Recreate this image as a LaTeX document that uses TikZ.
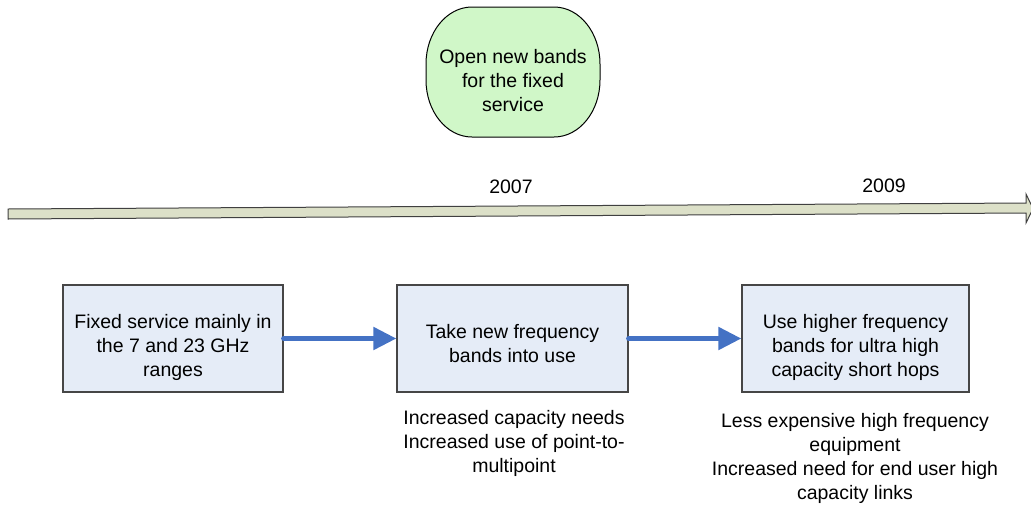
\documentclass[tikz,border=0pt]{standalone}
\usepackage{fontspec}
\setmainfont{Liberation Sans}
\usetikzlibrary{arrows.meta}
\definecolor{boxfill}{RGB}{229,236,247}
\definecolor{boxline}{RGB}{70,70,70}
\definecolor{blobfill}{RGB}{208,247,200}
\definecolor{barfill}{RGB}{220,224,200}
\definecolor{flowblue}{RGB}{68,114,196}
\tikzset{
  txt/.style={align=center, inner sep=0pt, font=\fontsize{19.5}{24}\selectfont},
  stepbox/.style={draw=boxline, line width=1.2pt, fill=boxfill, minimum height=107pt, inner sep=0pt},
  note/.style={txt},
  flow/.style={draw=flowblue, line width=5pt, line cap=round, -{Triangle[length=23pt,width=22pt]}},
}
\begin{document}
\begin{tikzpicture}[x=1pt,y=-1pt]
\useasboundingbox (0,0) rectangle (1031,504);
% timeline bar
\draw[fill=barfill, draw=black!75, line width=1pt]
  (8,209) -- (1026,203) -- (1026,194) -- (1033,208.5) -- (1026,223) -- (1026,213) -- (8,219) -- cycle;
\node[txt] (y2007) at (511,187) {2007};
\node[txt] (y2009) at (884,186) {2009};
% green blob
\draw[fill=blobfill, draw=black, line width=1pt]
  (472,7) -- (554,7) arc[start angle=90, end angle=0, x radius=46pt, y radius=57pt]
  -- (600,80) arc[start angle=0, end angle=-90, x radius=46pt, y radius=57pt]
  -- (472,137) arc[start angle=270, end angle=180, x radius=46pt, y radius=57pt]
  -- (426,64) arc[start angle=180, end angle=90, x radius=46pt, y radius=57pt] -- cycle;
\node[txt] (open) at (513,81) {Open new bands\\for the fixed\\service};
% boxes
\node[stepbox, minimum width=220pt] (b1) at (173,338.5) {};
\node[stepbox, minimum width=231pt] (b2) at (512.5,338.5) {};
\node[stepbox, minimum width=227pt] (b3) at (855.5,338.5) {};
\node[txt] (t1) at ([yshift=-8.5pt]b1.center) {Fixed service mainly in\\the 7 and 23 GHz\\ranges};
\node[txt] (t2) at ([yshift=-5.5pt]b2.center) {Take new frequency\\bands into use};
\node[txt] (t3) at ([yshift=-8.5pt]b3.center) {Use higher frequency\\bands for ultra high\\capacity short hops};
\draw[flow] (b1.east) -- (b2.west);
\draw[flow] (b2.east) -- (b3.west);
\node[note] (n2) at (514,443) {Increased capacity needs\\Increased use of point-to-\\multipoint};
\node[note] (n3) at (855,458.5) {Less expensive high frequency\\equipment\\Increased need for end user high\\capacity links};
\end{tikzpicture}
\end{document}
